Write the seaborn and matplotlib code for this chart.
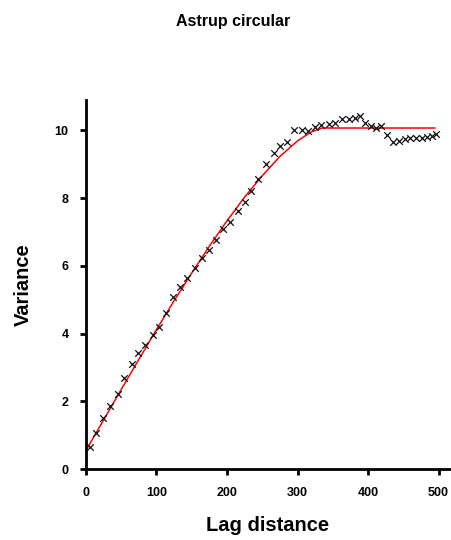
import matplotlib
matplotlib.use("Agg")
import pandas as pd
import seaborn as sns
import matplotlib.pyplot as plt

lag = [6, 14, 24, 34, 45, 54, 65, 74, 84, 95, 104, 114, 124, 134, 144, 154,
       165, 174, 184, 195, 205, 215, 225, 234, 244, 255, 266, 275, 285, 295,
       306, 315, 325, 334, 344, 353, 363, 373, 381, 388, 396, 404, 411, 418,
       427, 435, 444, 452, 460, 468, 476, 484, 491, 497]
variance = [0.67, 1.06, 1.51, 1.87, 2.22, 2.69, 3.11, 3.43, 3.67, 3.97, 4.21,
            4.61, 5.08, 5.37, 5.64, 5.94, 6.22, 6.46, 6.77, 7.09, 7.30, 7.61,
            7.90, 8.20, 8.58, 9.00, 9.33, 9.53, 9.65, 10.0, 10.0, 9.97, 10.1,
            10.17, 10.2, 10.22, 10.34, 10.34, 10.37, 10.43, 10.22, 10.12,
            10.07, 10.12, 9.87, 9.67, 9.70, 9.75, 9.78, 9.78, 9.78, 9.81,
            9.84, 9.90]

# fitted model line (red)
model_lag = [0, 25, 50, 75, 100, 125, 150, 175, 200, 225, 250, 275, 300,
             320, 335, 495]
model_val = [0.55, 1.45, 2.35, 3.24, 4.12, 4.97, 5.79, 6.58, 7.33, 8.03,
             8.66, 9.23, 9.69, 9.96, 10.07, 10.07]

x_ticks = [0, 100, 200, 300, 400, 500]
y_ticks = [0, 2, 4, 6, 8, 10]

pts = pd.DataFrame({"lag": lag, "variance": variance})
model = pd.DataFrame({"lag": model_lag, "variance": model_val})

sns.set_theme(style="ticks")
plt.rcParams["font.family"] = ["Liberation Sans", "DejaVu Sans"]
plt.rcParams["text.color"] = "black"
plt.rcParams["xtick.color"] = "black"
plt.rcParams["ytick.color"] = "black"

fig = plt.figure(figsize=(4.52, 5.40), dpi=100)
ax = fig.add_axes([0.19, 0.131, 0.81, 0.684])

sns.lineplot(data=model, x="lag", y="variance", color="red", linewidth=1.1,
             ax=ax, zorder=2)
sns.scatterplot(data=pts, x="lag", y="variance", marker="x", color="#111111",
                s=22, linewidth=0.9, ax=ax, zorder=3)

ax.set_xlim(0, 519)
ax.set_ylim(0, 10.9)
ax.set_xticks(x_ticks)
ax.set_yticks(y_ticks)
ax.set_xlabel("")
ax.set_ylabel("")
sns.despine(ax=ax)
for s in ["left", "bottom"]:
    ax.spines[s].set_linewidth(2.0)
    ax.spines[s].set_color("black")
ax.tick_params(axis="both", length=4.5, width=2.0, color="black",
               labelcolor="black", labelsize=9, pad=8)
for lbl in ax.get_xticklabels() + ax.get_yticklabels():
    lbl.set_fontweight("bold")

fig.text(0.515, 0.961, "Astrup circular", ha="center", va="center",
         fontsize=11.5, fontweight="bold", color="black")
fig.text(0.593, 0.026, "Lag distance", ha="center", va="center",
         fontsize=14.5, fontweight="bold", color="black")
fig.text(0.052, 0.473, "Variance", ha="center", va="center",
         fontsize=14.5, fontweight="bold", rotation=90, color="black")

fig.savefig("out.png", dpi=100)
